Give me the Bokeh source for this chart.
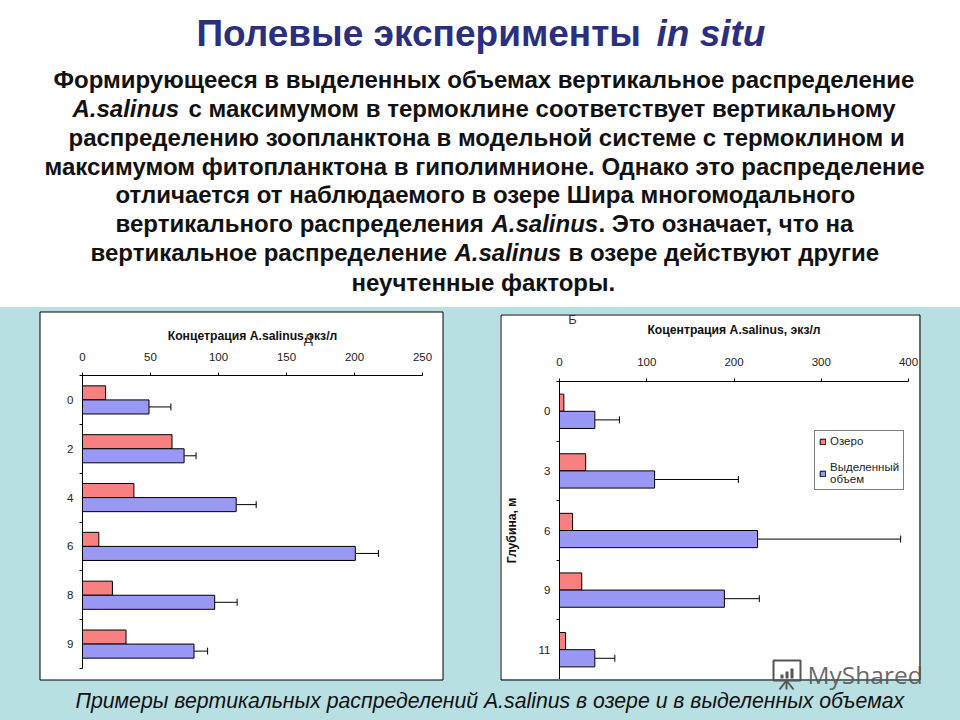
from bokeh.plotting import figure
from bokeh.layouts import column, row
from bokeh.models import (Range1d, LinearAxis, FixedTicker, Whisker, TeeHead, ColumnDataSource,
                          Legend, LegendItem, GlobalInlineStyleSheet)
from bokeh.embed import file_html
from bokeh.resources import INLINE
from bokeh.core.properties import value

# ---- data ----
depth_a = ["0", "2", "4", "6", "8", "9"]
lake_a = [17, 65.8, 37.8, 12, 22, 32]
encl_a = [48.9, 74.7, 113, 200.6, 97.2, 82]
err_a = [65, 83.5, 127.7, 217.6, 113.7, 92]
xticks_a = [0, 50, 100, 150, 200, 250]

depth_b = ["0", "3", "6", "9", "11"]
lake_b = [5, 30, 15, 25.5, 7]
encl_b = [40.5, 109, 227, 189, 40.5]
err_b = [68.7, 205, 391, 229, 63.4]
xticks_b = [0, 100, 200, 300, 400]

title_a = "Концетрация A.salinus,экз/л"
title_b = "Коцентрация A.salinus, экз/л"
ylabel_b = "Глубина, м"
legend_lake = "Озеро"
legend_encl = "Выделенный\nобъем"

heading = [("Полевые эксперименты ", "normal"), ("in situ", "italic")]
para = [
    [(53, "Формирующееся в выделенных объемах вертикальное распределение", "bold")],
    [(72, "A.salinus", "bold italic"), (188, "с максимумом в термоклине соответствует вертикальному", "bold")],
    [(68, "распределению зоопланктона в модельной системе с термоклином и", "bold")],
    [(44, "максимумом фитопланктона в гиполимнионе. Однако это распределение", "bold")],
    [(115, "отличается от наблюдаемого в озере Шира многомодального", "bold")],
    [(115, "вертикального распределения ", "bold"), (491, "A.salinus", "bold italic"), (598, ". Это означает, что на", "bold")],
    [(90, "вертикальное распределение ", "bold"), (454, "A.salinus", "bold italic"), (568, "в озере действуют другие", "bold")],
    [(351, "неучтенные факторы.", "bold")],
]
para_y = [79, 108, 137, 166, 194, 223, 252, 282]
caption = "Примеры вертикальных распределений A.salinus в озере и в выделенных объемах"
teal = "#B8DFE1"
FONT = "Liberation Sans"
RED, BLUE = "#F98080", "#9999F5"


def chart(depths, lake, encl, err, xticks, xmax, title, w, h, ml, mr, mt, mb, margin, tick_off, title_off):
    n = len(depths)
    p = figure(width=w, height=h, frame_width=w - ml - mr, frame_height=h - mt - mb,
               x_range=Range1d(0, xmax), y_range=Range1d(n, 0),
               x_axis_location=None, y_axis_location=None, output_backend="svg",
               toolbar_location=None, min_border_left=ml, min_border_right=mr,
               min_border_top=mt, min_border_bottom=mb, margin=margin,
               background_fill_color="white", border_fill_color="white")
    p.grid.visible = False
    p.outline_line_color = None
    p.styles = {"background": "white"}
    centers = [i + 0.5 for i in range(n)]
    src = ColumnDataSource(dict(
        y1=[c - 0.144 for c in centers], y2=[c + 0.144 for c in centers],
        lake=lake, encl=encl, err=err))
    r1 = p.hbar(y="y1", right="lake", left=0, height=0.288, source=src,
                fill_color=RED, line_color="black", line_width=1)
    r2 = p.hbar(y="y2", right="encl", left=0, height=0.288, source=src,
                fill_color=BLUE, line_color="black", line_width=1)
    p.add_layout(Whisker(base="y2", lower="encl", upper="err", source=src, dimension="width",
                         lower_head=None, upper_head=TeeHead(size=7, line_color="black", line_width=1),
                         line_color="black", line_width=1))
    xa = LinearAxis(ticker=FixedTicker(ticks=xticks), axis_label=title)
    xa.axis_label_text_font = FONT
    xa.axis_label_text_font_style = "bold"
    xa.axis_label_text_font_size = "12.2px"
    xa.axis_label_text_color = "#111"
    xa.axis_label_standoff = title_off
    xa.major_label_text_font = FONT
    xa.major_label_text_font_size = "11.5px"
    xa.major_label_text_color = "#222"
    xa.major_label_standoff = tick_off
    xa.major_tick_in = 0
    xa.major_tick_out = 3
    xa.minor_tick_line_color = None
    xa.axis_line_color = "black"
    p.add_layout(xa, "above")
    ya = LinearAxis(ticker=FixedTicker(ticks=centers, minor_ticks=list(range(n + 1))))
    ya.major_label_overrides = {c: d for c, d in zip(centers, depths)}
    ya.major_tick_in = 0
    ya.major_tick_out = 0
    ya.minor_tick_in = 0
    ya.minor_tick_out = 3
    ya.major_label_standoff = 6
    ya.major_label_text_font = FONT
    ya.major_label_text_font_size = "11.5px"
    ya.major_label_text_color = "#222"
    p.add_layout(ya, "left")
    return p, r1, r2, ya


# ---- header ----
top = figure(width=960, height=307, x_range=Range1d(0, 960), y_range=Range1d(307, 0),
             x_axis_location=None, y_axis_location=None, output_backend="svg",
             toolbar_location=None, min_border=0, outline_line_color=None,
             background_fill_color="white", border_fill_color="white")
top.grid.visible = False
top.text(x=[196, 656], y=[33, 33], text=[h[0] for h in heading],
         text_font=value(FONT), text_font_size="37px",
         text_font_style=["bold", "bold italic"], text_color="#2B2F7F",
         text_baseline="middle", text_align="left")
xs, ys, ts, fs = [], [], [], []
for line, y in zip(para, para_y):
    for x, t, st in line:
        xs.append(x); ys.append(y); ts.append(t); fs.append(st)
top.text(x=xs, y=ys, text=ts, text_font=value(FONT), text_font_size="24px",
         text_font_style=fs, text_color="#111", text_baseline="middle", text_align="left")

# ---- charts ----
pa, _, _, _ = chart(depth_a, lake_a, encl_a, err_a, xticks_a, 250, title_a,
                    403, 368, 42, 21, 61, 14, (1, 0, 3, 40), 12, 7)

pb, r1, r2, ya = chart(depth_b, lake_b, encl_b, err_b, xticks_b, 400, title_b,
                       419, 365, 59, 11, 67, 0, (7, 0, 0, 57), 13, 18)
ya.axis_label = ylabel_b
ya.axis_label_text_font = FONT
ya.axis_label_text_font_style = "bold"
ya.axis_label_text_font_size = "12.2px"
ya.axis_label_text_color = "#111"
ya.axis_label_standoff = 17
leg = Legend(items=[LegendItem(label=value(legend_lake), renderers=[r1]),
                    LegendItem(label=value(legend_encl), renderers=[r2])],
             location=(255, 189), border_line_color="black", background_fill_alpha=1,
             label_text_font=FONT, label_text_font_size="11.5px", label_text_color="#222",
             label_text_line_height=1.3,
             glyph_width=7, glyph_height=7, padding=4, spacing=14, margin=0,
             label_standoff=4, label_height=12)
pb.add_layout(leg, "center")

# ---- overlay: chart borders, stray letters, caption and watermark ----
cap = figure(width=960, height=413, x_range=Range1d(0, 960), y_range=Range1d(720, 307),
             x_axis_location=None, y_axis_location=None, output_backend="svg",
             toolbar_location=None, min_border=0, outline_line_color=None,
             background_fill_alpha=0, border_fill_alpha=0, margin=(-372, 0, 0, 0))
cap.grid.visible = False
# tidy the left panel's edges: teal band above it, white band at its foot
cap.quad(left=[39], right=[444], top=[307], bottom=[311.5], fill_color=teal, line_color=None)
cap.quad(left=[39.5], right=[442.5], top=[672], bottom=[679.5], fill_color="white", line_color=None)
cap.quad(left=[39.5, 500.5], right=[442.5, 919.5], top=[311.5, 314.5], bottom=[679.5, 679.5],
         fill_alpha=0, line_color="black", line_width=1)
cap.text(x=[308, 572], y=[338, 319], text=["Д", "Б"], text_font=value(FONT), text_font_size="13px",
         text_color="#333", text_baseline="middle", text_align="center")
cap.text(x=[75], y=[700], text=[caption], text_font=value(FONT), text_font_size="21.25px",
         text_font_style="italic", text_color="#111", text_baseline="middle", text_align="left")
cap.text(x=[807], y=[674], text=["MyShared"], text_font=value("Open Sans"), text_font_size="24.5px",
         text_color="#555", text_alpha=0.9, text_baseline="middle", text_align="left")
cap.quad(left=[773], right=[800], top=[660], bottom=[680], fill_alpha=0, line_color="#555", line_width=2)
cap.quad(left=[780, 785, 790], right=[783, 788, 793], top=[674, 671, 668], bottom=[678, 678, 678],
         fill_color="#555", line_color=None)
cap.segment(x0=[786, 786, 786], y0=[680, 680, 680], x1=[779, 786, 793], y1=[689, 689, 689],
            line_color="#555", line_width=2)

root = column(top, row(pa, pb), cap)
root.stylesheets = [GlobalInlineStyleSheet(css=
    "html{height:100%;overflow:hidden;background:linear-gradient(to bottom,#fff 0,#fff 307px,"
    + teal + " 307px," + teal + " 100%) no-repeat;}body{background:transparent;margin:0;}")]
open("out.html", "w").write(file_html(root, INLINE))
